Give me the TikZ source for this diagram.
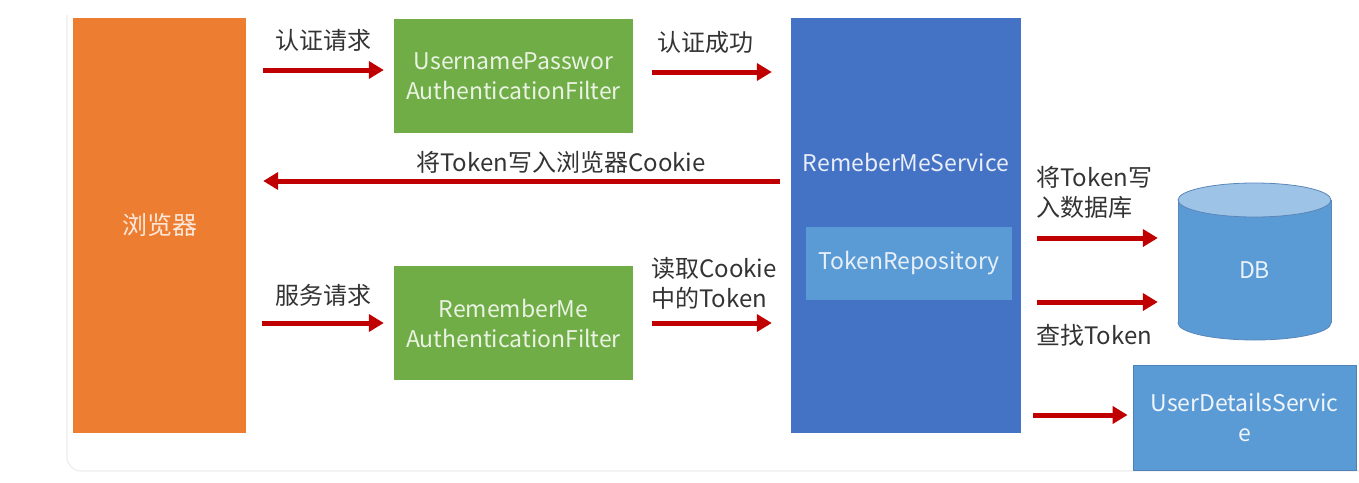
\documentclass[tikz,border=0pt]{standalone}
\usepackage{fontspec}
\setmainfont{Noto Sans CJK SC}
\usetikzlibrary{arrows.meta}
\definecolor{orangebox}{HTML}{ED7D31}
\definecolor{greenbox}{HTML}{70AD47}
\definecolor{bluebox}{HTML}{4472C4}
\definecolor{lightblue}{HTML}{5B9BD5}
\definecolor{dbtop}{HTML}{9DC3E6}
\definecolor{dbedge}{HTML}{5A86B8}
\definecolor{arrowred}{HTML}{C00000}
\definecolor{labeltext}{HTML}{333333}
\tikzset{
  box/.style={rectangle, inner sep=0pt, align=center, font=\fontsize{23}{30}\selectfont},
  orangenode/.style={box, fill=orangebox, text=orangebox!18!white, font=\fontsize{25}{30}\selectfont},
  greennode/.style={box, fill=greenbox, text=greenbox!15!white},
  bluenode/.style={box, fill=bluebox},
  repnode/.style={box, fill=lightblue, text=lightblue!15!white},
  udsnode/.style={box, fill=lightblue, text=lightblue!10!white, draw=lightblue!85!black, line width=0.8pt},
  flow/.style={draw=arrowred, line width=5pt, -{Triangle[length=15pt,width=17pt]}},
  lbl/.style={text=labeltext, inner sep=0pt, font=\fontsize{24}{30}\selectfont},
}
\begin{document}
\begin{tikzpicture}[x=1pt, y=-1pt]
\useasboundingbox (0,0) rectangle (1359,482);
% faint page panel edge
\draw[gray!15, line width=1.2pt, rounded corners=14pt] (67,15) -- (67,471) -- (1359,471);

% browser
\node[orangenode, minimum width=173pt, minimum height=415pt] (browser) at (159.5,225.5) {浏览器};
% filters
\node[greennode, minimum width=239pt, minimum height=114pt] (upf) at (513.5,76) {UsernamePasswor\\AuthenticationFilter};
\node[greennode, minimum width=239pt, minimum height=114pt] (rmf) at (513.5,323) {RememberMe\\AuthenticationFilter};
% remember-me service with its token repository
\node[bluenode, minimum width=230pt, minimum height=415pt] (svc) at (906,225.5) {};
\node[text=bluebox!12!white, font=\fontsize{23}{30}\selectfont, inner sep=0pt] (svctitle) at (906,162) {RemeberMeService};
\node[repnode, minimum width=206pt, minimum height=73pt] (repo) at (909,263.5) {TokenRepository};

% database cylinder
\fill[lightblue, draw=dbedge, line width=0.8pt] (1254.5,323) ellipse [x radius=76.5pt, y radius=17pt];
\fill[lightblue] (1178,200) rectangle (1331,323);
\draw[dbedge, line width=0.8pt] (1178,200) -- (1178,323) (1331,200) -- (1331,323);
\fill[dbtop, draw=dbedge, line width=0.8pt] (1254.5,200) ellipse [x radius=76.5pt, y radius=17pt];
\node[box, minimum width=153pt, minimum height=157pt, text=lightblue!12!white] (db) at (1254.5,270) {DB};

% user details service
\node[udsnode, minimum width=223pt, minimum height=105pt] (uds) at (1244.5,417.5) {UserDetailsServic\\e};

% connectors
\draw[flow, shorten <=17pt, shorten >=10pt] (browser.east |- 0,70) -- (upf.west |- 0,70);
\draw[flow, shorten <=19pt, shorten >=19pt] (upf.east |- 0,72) -- (svc.west |- 0,72);
\draw[flow, shorten <=11pt, shorten >=17pt] (svc.west |- 0,181) -- (browser.east |- 0,181);
\draw[flow, shorten <=16pt, shorten >=10pt] (browser.east |- 0,323) -- (rmf.west |- 0,323);
\draw[flow, shorten <=19pt, shorten >=19pt] (rmf.east |- 0,323) -- (svc.west |- 0,323);
\draw[flow, shorten <=16pt, shorten >=20pt] (svc.east |- 0,238) -- (db.west |- 0,238);
\draw[flow, shorten <=16pt, shorten >=20pt] (svc.east |- 0,302) -- (db.west |- 0,302);
\draw[flow, shorten <=12pt, shorten >=5pt] (svc.east |- 0,415) -- (uds.west |- 0,415);

% connector labels
\node[lbl] (l1) at (323,40) {认证请求};
\node[lbl] (l2) at (705,42) {认证成功};
\node[lbl] (l3) at (561,162) {将Token写入浏览器Cookie};
\node[lbl] (l4) at (323,295) {服务请求};
\node[lbl, align=left, anchor=west] (l5) at (651,283) {读取Cookie\\中的Token};
\node[lbl, align=left, anchor=west] (l6) at (1036,192) {将Token写\\入数据库};
\node[lbl, anchor=west] (l7) at (1036,335) {查找Token};
\end{tikzpicture}
\end{document}
